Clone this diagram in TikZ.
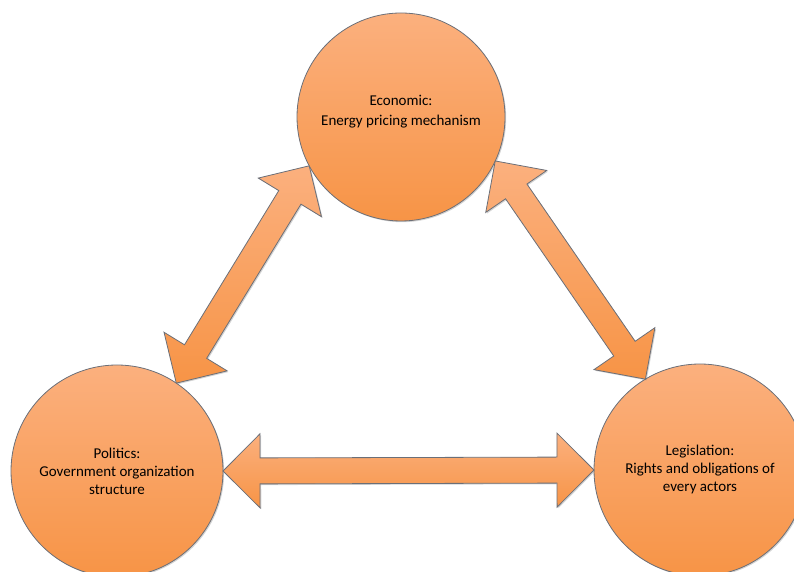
\documentclass[tikz,border=0pt]{standalone}
\usepackage{fontspec}
\setmainfont{Carlito}
\usetikzlibrary{calc,shadows}

\definecolor{peachtop}{HTML}{FBB07E}
\definecolor{peachbot}{HTML}{F79446}
\definecolor{rimgray}{HTML}{6B6F78}

% sizes of the fat double arrows
\newcommand*{\arrhead}{37pt}
\newcommand*{\arrwide}{37pt}
\newcommand*{\arrshaft}{13pt}

% fat double arrow between two anchors
\newcommand{\bigarrow}[2]{%
  \path[fatarrow] (#1)
    -- ($(#1)!\arrhead!(#2)!\arrwide!90:(#2)$)
    -- ($(#1)!\arrhead!(#2)!\arrshaft!90:(#2)$)
    -- ($(#2)!\arrhead!(#1)!\arrshaft!-90:(#1)$)
    -- ($(#2)!\arrhead!(#1)!\arrwide!-90:(#1)$)
    -- (#2)
    -- ($(#2)!\arrhead!(#1)!\arrwide!90:(#1)$)
    -- ($(#2)!\arrhead!(#1)!\arrshaft!90:(#1)$)
    -- ($(#1)!\arrhead!(#2)!\arrshaft!-90:(#2)$)
    -- ($(#1)!\arrhead!(#2)!\arrwide!-90:(#2)$)
    -- cycle;}

\begin{document}
\begin{tikzpicture}[x=1pt, y=1pt,
    topic/.style={circle, draw=rimgray, line width=0.8pt,
      top color=peachtop, bottom color=peachbot,
      inner sep=0pt, outer sep=0pt, align=center,
      font=\fontsize{15}{18}\selectfont,
      drop shadow={shadow xshift=1.2pt, shadow yshift=-1.2pt, opacity=0.35}},
    topictext/.style={align=center, font=\fontsize{15}{20}\selectfont},
    fatarrow/.style={draw=rimgray, line width=0.8pt, line join=miter,
      top color=peachtop, bottom color=peachbot,
      drop shadow={shadow xshift=1.2pt, shadow yshift=-1.2pt, opacity=0.35}}]
  \useasboundingbox (0,0) rectangle (794,572);

  \node[topic, minimum size=208pt] (eco) at (401,455) {};
  \node[topictext] (eco-txt) at ($(eco.center)+(0,5)$) {Economic:\\Energy pricing mechanism};
  \node[topic, minimum size=212pt] (pol) at (117,101) {Politics:\\Government organization\\structure};
  \node[topic, minimum size=212pt] (leg) at (700,102) {Legislation:\\Rights and obligations of\\every actors};

  \bigarrow{pol.56}{eco.208}
  \bigarrow{eco.335}{leg.121}
  \bigarrow{pol.east}{leg.west}
\end{tikzpicture}
\end{document}
